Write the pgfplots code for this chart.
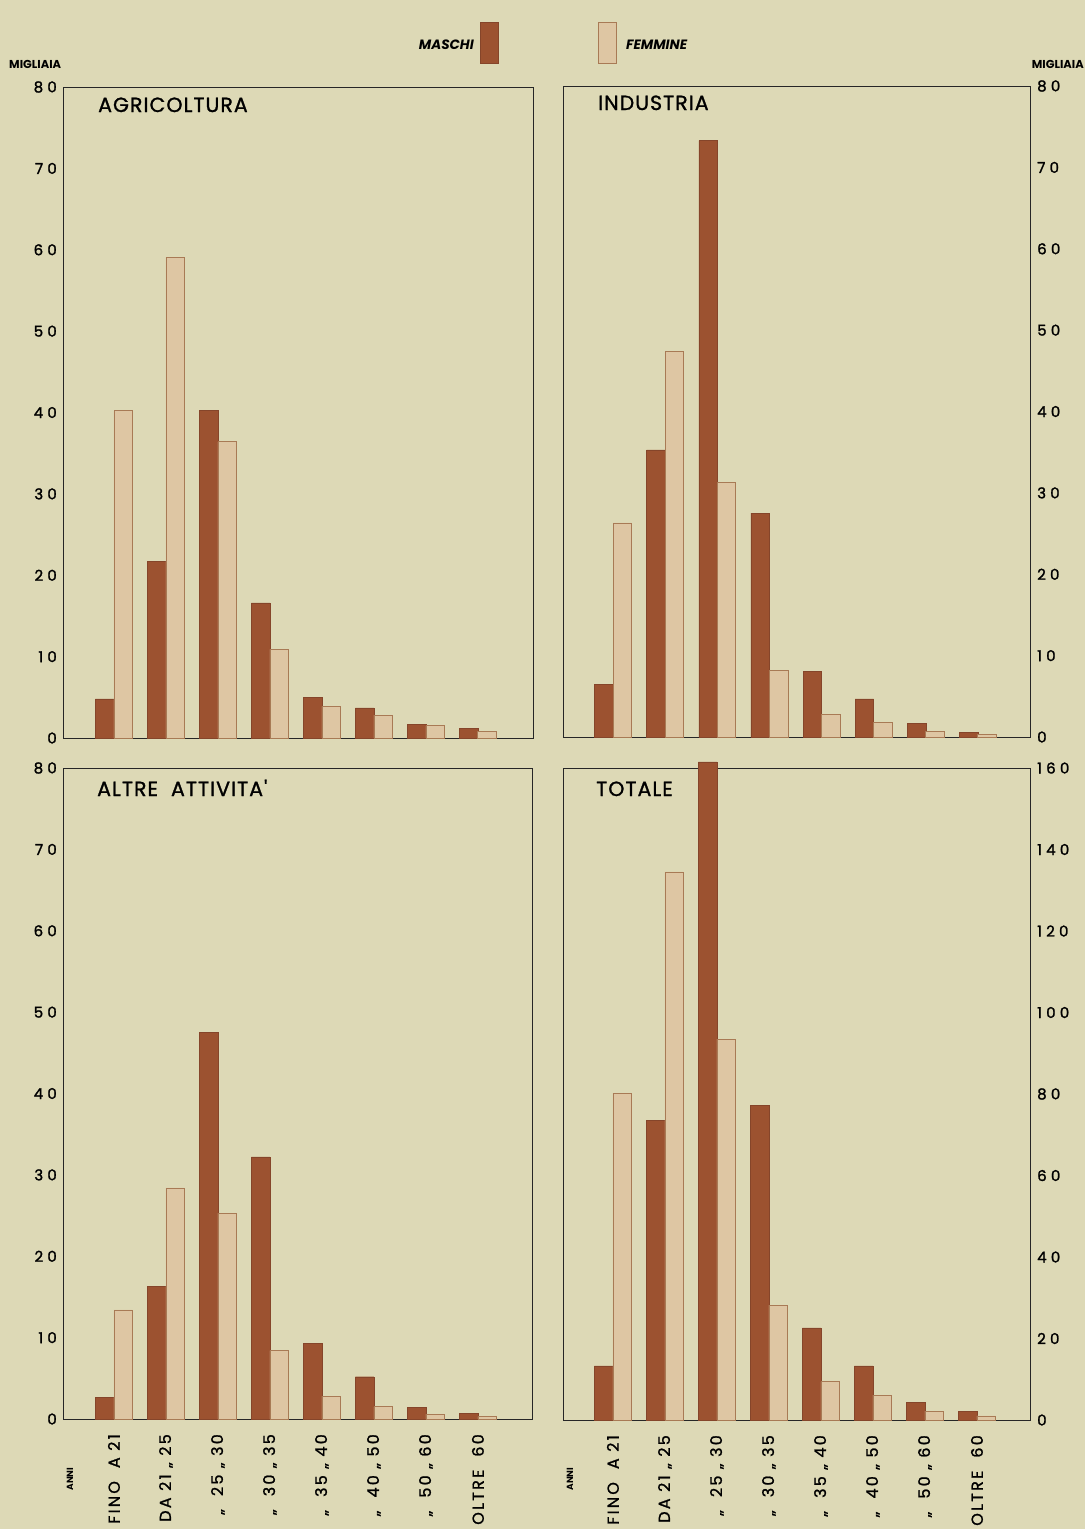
\documentclass[border=0pt]{standalone}
\usepackage{fontspec}
\setmainfont{Poppins}
\newfontfamily\medfont{Poppins}[FakeBold=1.2,LetterSpace=5]
\newfontfamily\tickfont{Poppins}[LetterSpace=28,FakeBold=1.5]
\newfontfamily\xlabfont{Poppins}[LetterSpace=14,FakeBold=1.2]
\usepackage{pgfplots}
\pgfplotsset{compat=1.18}
\definecolor{bg}{HTML}{DDD9B6}
\definecolor{male}{HTML}{9C5230}
\definecolor{maleedge}{HTML}{85452A}
\definecolor{female}{HTML}{DEC6A3}
\definecolor{fedge}{HTML}{A87A55}
\pgfplotsset{
  panel/.style={
    scale only axis, ybar=0pt, bar width=18.5pt, ymin=0,
    axis line style={draw=black!85, line width=0.9pt},
    major tick length=0pt, xtick={0,...,7}, xticklabels={},
    yticklabel style={font=\tickfont\fontsize{15}{15}\selectfont, inner sep=0pt},
    xticklabel style={font=\xlabfont\fontsize{16}{16}\selectfont, rotate=90, anchor=east, inner sep=0pt},
    xticklabel shift=15pt,
  },
  m/.style={fill=male, draw=maleedge, line width=0.4pt},
  f/.style={fill=female, draw=fedge, line width=0.8pt},
  ylab80/.style={ytick={0,10,...,80}, yticklabels={0,10,20,30,40,50,60,70,80}},
  cats/.style={xticklabels={FINO\ \ A 21, DA 21 „ 25, „\ \ 25 „ 30, „\ \ 30 „ 35, „\ \ 35 „ 40, „\ \ 40 „ 50, „\ \ 50 „ 60, OLTRE\ \ 60}},
}
\begin{document}
\begin{tikzpicture}
\fill[bg] (0pt,0pt) rectangle (1085pt,-1529pt);
\useasboundingbox (0pt,0pt) rectangle (1085pt,-1529pt);

% legend
\fill[male, draw=maleedge] (480pt,-22pt) rectangle (498pt,-63pt);
\filldraw[fill=female, draw=fedge, line width=0.8pt] (598pt,-22pt) rectangle (616pt,-63pt);
\node[anchor=east, font=\bfseries\itshape\fontsize{13.5}{13.5}\selectfont, inner sep=0pt] at (474pt,-45pt) {MASCHI};
\node[anchor=west, font=\bfseries\itshape\fontsize{13.5}{13.5}\selectfont, inner sep=0pt] at (626pt,-45pt) {FEMMINE};
\node[anchor=west, font=\bfseries\fontsize{11.5}{11.5}\selectfont, inner sep=0pt] at (9pt,-64pt) {MIGLIAIA};
\node[anchor=east, font=\bfseries\fontsize{11.5}{11.5}\selectfont, inner sep=0pt] at (1084pt,-64pt) {MIGLIAIA};

% AGRICOLTURA
\begin{axis}[panel, ylab80, at={(63pt,-738pt)}, anchor=south west, width=470pt, height=651pt,
  xmin=-0.98, xmax=8.06, ymax=80, yticklabel style={xshift=-6pt}]
\addplot[m] coordinates {(0,4.8) (1,21.7) (2,40.3) (3,16.6) (4,5.0) (5,3.7) (6,1.7) (7,1.2)};
\addplot[f] coordinates {(0,40.2) (1,59.1) (2,36.4) (3,10.9) (4,3.9) (5,2.8) (6,1.5) (7,0.8)};
\end{axis}
\node[anchor=base west, font=\medfont\fontsize{20.5}{20.5}\selectfont, inner sep=0pt] at (98pt,-112pt) {AGRICOLTURA};

% INDUSTRIA
\begin{axis}[panel, ylab80, at={(563pt,-737pt)}, anchor=south west, width=467pt, height=651pt,
  xmin=-0.96, xmax=8.0, ymax=80, yticklabel pos=right, yticklabel style={xshift=7pt}]
\addplot[m] coordinates {(0,6.5) (1,35.3) (2,73.3) (3,27.5) (4,8.1) (5,4.7) (6,1.7) (7,0.6)};
\addplot[f] coordinates {(0,26.3) (1,47.4) (2,31.3) (3,8.2) (4,2.8) (5,1.8) (6,0.7) (7,0.3)};
\end{axis}
\node[anchor=base west, font=\medfont\fontsize{20.5}{20.5}\selectfont, inner sep=0pt] at (598pt,-110pt) {INDUSTRIA};

% ALTRE ATTIVITA
\begin{axis}[panel, ylab80, cats, at={(63pt,-1419pt)}, anchor=south west, width=469pt, height=651pt,
  xmin=-0.98, xmax=8.04, ymax=80, yticklabel style={xshift=-6pt}]
\addplot[m] coordinates {(0,2.7) (1,16.3) (2,47.5) (3,32.2) (4,9.3) (5,5.2) (6,1.4) (7,0.7)};
\addplot[f] coordinates {(0,13.4) (1,28.4) (2,25.3) (3,8.4) (4,2.8) (5,1.5) (6,0.6) (7,0.3)};
\end{axis}
\node[anchor=base west, font=\medfont\fontsize{20.5}{20.5}\selectfont, inner sep=0pt] at (97pt,-796pt) {ALTRE\ \ ATTIVITA'};
\node[rotate=90, font=\bfseries\fontsize{9}{9}\selectfont, inner sep=0pt] at (70pt,-1479pt) {ANNI};

% TOTALE
\begin{axis}[panel, cats, at={(563pt,-1420pt)}, anchor=south west, width=467pt, height=652pt,
  xmin=-0.96, xmax=8.02, ymax=160, clip=false,
  ytick={0,20,...,160}, yticklabels={0,20,40,60,80,100,120,140,160},
  yticklabel pos=right, yticklabel style={xshift=7pt}]
\addplot[m] coordinates {(0,13.3) (1,73.6) (2,161.5) (3,77.3) (4,22.6) (5,13.3) (6,4.4) (7,2.2)};
\addplot[f] coordinates {(0,80.2) (1,134.5) (2,93.5) (3,28.2) (4,9.4) (5,6.1) (6,2.2) (7,1.0)};
\end{axis}
\node[anchor=base west, font=\medfont\fontsize{20.5}{20.5}\selectfont, inner sep=0pt] at (596pt,-796pt) {TOTALE};
\node[rotate=90, font=\bfseries\fontsize{9}{9}\selectfont, inner sep=0pt] at (570pt,-1479pt) {ANNI};
\end{tikzpicture}
\end{document}
